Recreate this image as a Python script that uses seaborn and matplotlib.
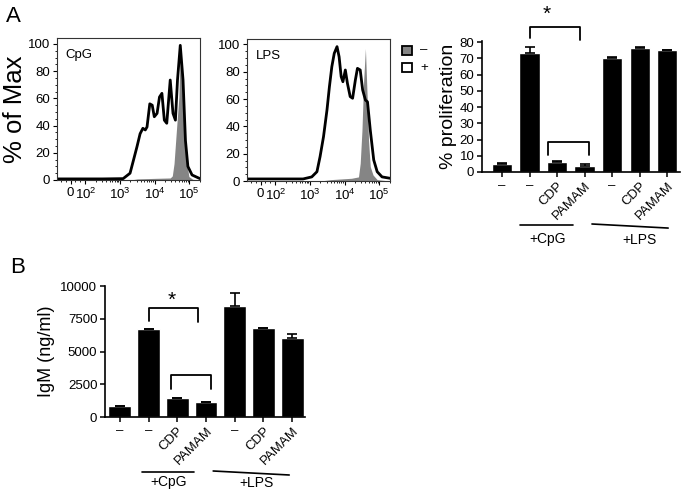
import matplotlib
matplotlib.use("Agg")
from matplotlib import pyplot as plt
from matplotlib.patches import Rectangle
from matplotlib.ticker import FixedLocator, MultipleLocator
import seaborn as sns
import pandas as pd
import numpy as np

sns.set_style("ticks")
plt.rcParams['font.family'] = ['Liberation Sans', 'DejaVu Sans']
plt.rcParams['mathtext.fontset'] = 'custom'
plt.rcParams['mathtext.rm'] = 'Liberation Sans'
for key in ['text.color', 'axes.labelcolor', 'xtick.color', 'ytick.color']:
    plt.rcParams[key] = 'black'

# --- flow histograms (x in log10 display units, y in % of max) ---
cpg_plus_x = [1.18, 2.5, 3.09, 3.29, 3.39, 3.49, 3.58, 3.66, 3.73, 3.78, 3.86, 3.93, 3.99, 4.07,
              4.14, 4.21, 4.28, 4.35, 4.45, 4.53, 4.60, 4.66, 4.74, 4.82, 4.89, 4.96, 5.08, 5.31]
cpg_plus_y = [0.8, 0.8, 1, 5, 14.7, 24.5, 34, 38, 36.8, 39, 56, 55, 46.5, 49,
              61, 63.7, 44, 41.7, 73.5, 49, 44, 73.5, 99, 73.5, 29, 10, 3.7, 1]
cpg_minus_x = [3.3, 3.5, 4.0, 4.45, 4.51, 4.56, 4.63, 4.70, 4.74, 4.85, 4.93, 4.99, 5.1, 5.31]
cpg_minus_y = [0, 0.8, 1.2, 1.5, 3, 12, 37, 61, 97, 37, 12, 2.5, 0.5, 0]

lps_plus_x = [1.18, 2.8, 3.05, 3.20, 3.29, 3.39, 3.49, 3.56, 3.63, 3.70, 3.78, 3.84, 3.90, 3.95, 4.02,
              4.08, 4.16, 4.23, 4.31, 4.37, 4.45, 4.52, 4.60, 4.66, 4.74, 4.84, 4.94, 5.08, 5.31]
lps_plus_y = [1.5, 1.5, 3, 6.8, 17.8, 32.5, 52, 69, 83.7, 93.5, 98.4, 91, 76.4, 72.7, 81.3,
              71.6, 61.8, 60.6, 74, 82.5, 81.3, 66.7, 59.3, 58, 37.4, 15.4, 6.8, 3, 2]
lps_minus_x = [3.3, 3.6, 4.2, 4.40, 4.45, 4.50, 4.55, 4.60, 4.65, 4.69, 4.74, 4.82, 4.94, 5.31]
lps_minus_y = [0, 1, 2, 3, 13, 37, 74, 97, 61.8, 30, 10.5, 4.4, 1, 0]

hist_ticks = [1.575, 2, 3, 4, 5]
hist_ticklabels = ['0', r'$10^{2}$', r'$10^{3}$', r'$10^{4}$', r'$10^{5}$']

# --- bar data ---
groups = ['–', '–', 'CDP', 'PAMAM', '–', 'CDP', 'PAMAM']
prolif = [5, 73.5, 6.2, 3.5, 70, 76.5, 75]
prolif_err = [0.4, 3.3, 0.3, 1.3, 0.5, 0.3, 0.3]
igm = [860, 6720, 1420, 1170, 8500, 6820, 6000]
igm_err = [0, 0, 0, 0, 1000, 0, 300]

W, H = 683, 494
fig = plt.figure(figsize=(W / 100, H / 100), dpi=100)


def add_ax(left, top, right, bottom):
    return fig.add_axes([left / W, 1 - bottom / H, (right - left) / W, (bottom - top) / H])


def minor_positions():
    pos = [1.3, 1.45, 1.7, 1.85]
    for d in [2, 3, 4]:
        pos += [d + np.log10(k) for k in range(2, 10)]
    pos += [5 + np.log10(2)]
    return pos


def histo(ax, px, py, mx, my, name, ytop):
    ax.fill_between(mx, my, color='#858585', lw=0)
    sns.lineplot(x=px, y=py, ax=ax, color='black', lw=2, sort=False)
    ax.set_xlim(1.18, 5.31)
    ax.set_ylim(0, ytop)
    ax.set_xticks(hist_ticks, hist_ticklabels)
    ax.xaxis.set_minor_locator(FixedLocator(minor_positions()))
    ax.set_yticks(range(0, 101, 20))
    ax.yaxis.set_minor_locator(MultipleLocator(5))
    ax.tick_params(labelsize=9.5, length=3, width=0.8, pad=2)
    ax.tick_params(which='minor', length=1.5, width=0.6)
    for s in ax.spines.values():
        s.set_linewidth(0.8)
        s.set_color('#333333')
    ax.text(0.06, 0.92, name, transform=ax.transAxes, fontsize=9.5, va='top')
    ax.set_xlabel('')
    ax.set_ylabel('')


ax1 = add_ax(57, 38, 200, 180)
histo(ax1, cpg_plus_x, cpg_plus_y, cpg_minus_x, cpg_minus_y, 'CpG', 104.4)
ax2 = add_ax(247, 39, 390, 181)
histo(ax2, lps_plus_x, lps_plus_y, lps_minus_x, lps_minus_y, 'LPS', 104)

fig.text(15 / W, 1 - 109 / H, '% of Max', rotation=90, fontsize=18.5, ha='center', va='center')

# legend
fig.add_artist(Rectangle((402 / W, 1 - 55 / H), 10 / W, 9 / H, transform=fig.transFigure,
                         facecolor='#858585', edgecolor='black', lw=1.3))
fig.add_artist(Rectangle((402 / W, 1 - 72 / H), 10 / W, 9 / H, transform=fig.transFigure,
                         facecolor='white', edgecolor='black', lw=1.3))
fig.text(420 / W, 1 - 50.5 / H, '–', fontsize=9.5, va='center')
fig.text(420 / W, 1 - 67.5 / H, '+', fontsize=9.5, va='center')


def bars(ax, vals, errs, width):
    df = pd.DataFrame({'pos': range(len(vals)), 'val': vals})
    sns.barplot(data=df, x='pos', y='val', color='black', saturation=1, width=width,
                errorbar=None, ax=ax)
    ax.errorbar(range(len(vals)), vals, yerr=[np.zeros(len(vals)), errs], fmt='none',
                ecolor='black', elinewidth=1.2, capsize=3.5, capthick=1.2)
    sns.despine(ax=ax)
    for s in ['left', 'bottom']:
        ax.spines[s].set_linewidth(1.2)
        ax.spines[s].set_color('black')
    ax.set_xticks(range(len(vals)))
    ax.set_xticklabels(groups)
    ax.tick_params(labelsize=9.5, length=3.5, width=1.1, pad=2)
    for lab in ax.get_xticklabels():
        if lab.get_text() != '–':
            lab.set_rotation(45)
            lab.set_ha('right')
            lab.set_va('top')
            lab.set_rotation_mode('anchor')
    ax.set_xlabel('')


def bracket(ax, x0, x1, top, l0, l1):
    ax.plot([x0, x0, x1, x1], [l0, top, top, l1], color='black', lw=1.3, clip_on=False)


# --- panel A bars ---
ax3 = add_ax(482, 41.2, 680, 172)
bars(ax3, prolif, prolif_err, 0.73)
ax3.set_xlim(-0.727, 6.47)
ax3.set_ylim(0, 80.5)
ax3.set_yticks(range(0, 81, 10))
ax3.set_ylabel('% proliferation', fontsize=14, labelpad=2)
bracket(ax3, 1.02, 2.84, 89.4, 82.3, 81.2)
ax3.text(1.64, 97, '*', fontsize=15, ha='center', va='center')
bracket(ax3, 1.68, 3.16, 18.7, 10.5, 10.5)
ax3.plot([0.65, 2.58], [-32.6, -32.6], color='black', lw=1.2, clip_on=False)
ax3.plot([3.27, 6.04], [-32, -34.5], color='black', lw=1.2, clip_on=False)
ax3.text(1.67, -41.2, '+CpG', fontsize=10, ha='center', va='center')
ax3.text(5.0, -41.8, '+LPS', fontsize=10, ha='center', va='center')

# --- panel B bars ---
ax4 = add_ax(105, 286, 305, 417)
bars(ax4, igm, igm_err, 0.8)
ax4.set_xlim(-0.52, 6.45)
ax4.set_ylim(0, 10000)
ax4.set_yticks(range(0, 10001, 2500))
ax4.set_ylabel('IgM (ng/ml)', fontsize=13, labelpad=4)
bracket(ax4, 1.0, 2.73, 8300, 7350, 7270)
ax4.text(1.8, 8900, '*', fontsize=15, ha='center', va='center')
bracket(ax4, 1.77, 3.17, 3206, 2137, 2137)
ax4.plot([0.76, 2.58], [-4175, -4175], color='black', lw=1.2, clip_on=False)
ax4.plot([3.25, 5.9], [-4122, -4427], color='black', lw=1.2, clip_on=False)
ax4.text(1.69, -4936, '+CpG', fontsize=10, ha='center', va='center')
ax4.text(4.77, -5038, '+LPS', fontsize=10, ha='center', va='center')

fig.text(10 / W, 1 - 273 / H, 'B', fontsize=16, va='baseline')
fig.text(6 / W, 1 - 22 / H, 'A', fontsize=16, va='baseline')

fig.savefig('out.png', dpi=100)
